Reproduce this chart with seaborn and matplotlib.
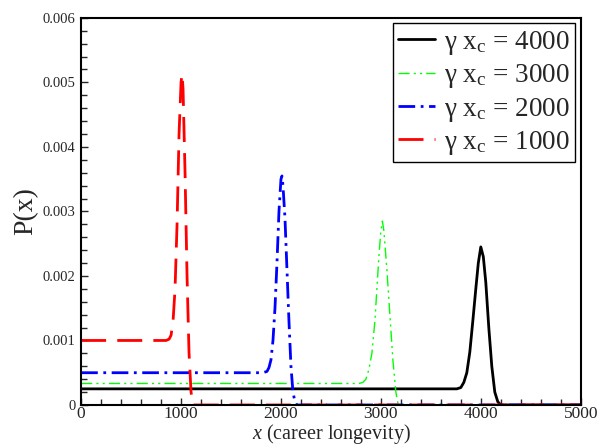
import numpy as np
import pandas as pd
import matplotlib
matplotlib.use("Agg")
import matplotlib.pyplot as plt
import seaborn as sns

# valeurs (x, P(x)) pour chaque gamma*x_c
x_1000 = [0, 850, 880, 900, 920, 940, 960, 980, 1000, 1010, 1020, 1040, 1060, 1080, 1100, 1120, 5000]
p_1000 = [0.001, 0.001, 0.00102, 0.00108, 0.0013, 0.0018, 0.0028, 0.0042, 0.0050, 0.00513, 0.0049, 0.0036, 0.0020, 0.0008, 0.0002, 0.0, 0.0]

x_2000 = [0, 1820, 1860, 1880, 1900, 1920, 1940, 1960, 1980, 2000, 2010, 2020, 2040, 2060, 2080, 2100, 2120, 2140, 2160, 5000]
p_2000 = [0.0005, 0.0005, 0.00052, 0.00058, 0.0007, 0.0010, 0.0015, 0.0022, 0.0030, 0.00350, 0.00355, 0.0034, 0.0029, 0.0021, 0.0013, 0.0006, 0.0002, 0.00005, 0.0, 0.0]

x_3000 = [0, 2780, 2820, 2850, 2880, 2910, 2940, 2960, 2980, 3000, 3015, 3030, 3060, 3090, 3120, 3150, 3170, 3190, 5000]
p_3000 = [0.000333, 0.000333, 0.00035, 0.0004, 0.00055, 0.0008, 0.0013, 0.0018, 0.0023, 0.0027, 0.00285, 0.0027, 0.0021, 0.0014, 0.0007, 0.0002, 0.00003, 0.0, 0.0]

x_4000 = [0, 3760, 3800, 3830, 3860, 3890, 3920, 3950, 3975, 4000, 4025, 4050, 4080, 4110, 4140, 4170, 4200, 5000]
p_4000 = [0.00025, 0.00025, 0.00027, 0.00035, 0.0005, 0.00082, 0.0013, 0.0018, 0.0022, 0.00245, 0.0023, 0.0019, 0.0012, 0.0006, 0.0002, 0.00005, 0.0, 0.0]

sns.set_theme(style="ticks")
plt.rcParams["font.family"] = ["Liberation Serif", "DejaVu Serif"]
plt.rcParams["mathtext.fontset"] = "custom"
plt.rcParams["mathtext.rm"] = "Liberation Serif"
plt.rcParams["mathtext.it"] = "Liberation Serif:italic"

fig = plt.figure(figsize=(6.1, 4.47), dpi=100)
ax = fig.add_axes([0.133, 0.094, 0.819, 0.866])

series = [
    (x_4000, p_4000, "black", "-", 2.0, "4000"),
    (x_3000, p_3000, "#00ff00", (0, (8, 3, 1.5, 3, 1.5, 3)), 1.0, "3000"),
    (x_2000, p_2000, "#0000ff", (0, (6, 2, 1, 2)), 2.0, "2000"),
    (x_1000, p_1000, "#ff0000", (0, (9, 4)), 2.0, "1000"),
]
for xs, ps, col, ls, lw, lab in series:
    sns.lineplot(x=xs, y=ps, color=col, linestyle=ls, linewidth=lw, estimator=None,
                 label=r"γ x$_{\rm c}$ = " + lab, ax=ax)

ax.set_xlim(0, 5000)
ax.set_ylim(0, 0.006)
ax.set_xticks(np.arange(0, 5001, 1000))
ax.set_xticks(np.arange(0, 5001, 200), minor=True)
ax.set_yticks(np.arange(0, 0.00601, 0.001))
ax.set_yticks(np.arange(0, 0.00601, 0.0002), minor=True)
ax.set_yticklabels(["0", "0.001", "0.002", "0.003", "0.004", "0.005", "0.006"])
ax.tick_params(axis="both", which="both", direction="in", top=False, right=False)
ax.tick_params(axis="both", which="major", length=5, width=1)
ax.tick_params(axis="both", which="minor", length=4, width=1)
ax.tick_params(axis="x", labelsize=12.5, pad=1)
ax.tick_params(axis="y", labelsize=10.5, pad=4)
for sp in ax.spines.values():
    sp.set_linewidth(1.5)
    sp.set_color("black")

ax.set_xlabel(r"$x$ (career longevity)", fontsize=14.5, labelpad=0)
ax.set_ylabel("P(x)", fontsize=20, labelpad=3)

leg = ax.legend(loc="upper right", fontsize=19.5, frameon=True, fancybox=False,
                edgecolor="black", handlelength=1.35, borderpad=0.2,
                labelspacing=0.2, handletextpad=0.35, borderaxespad=0.2)
leg.get_frame().set_linewidth(1.0)
leg.get_frame().set_alpha(1)

fig.savefig("out.png", dpi=100)
